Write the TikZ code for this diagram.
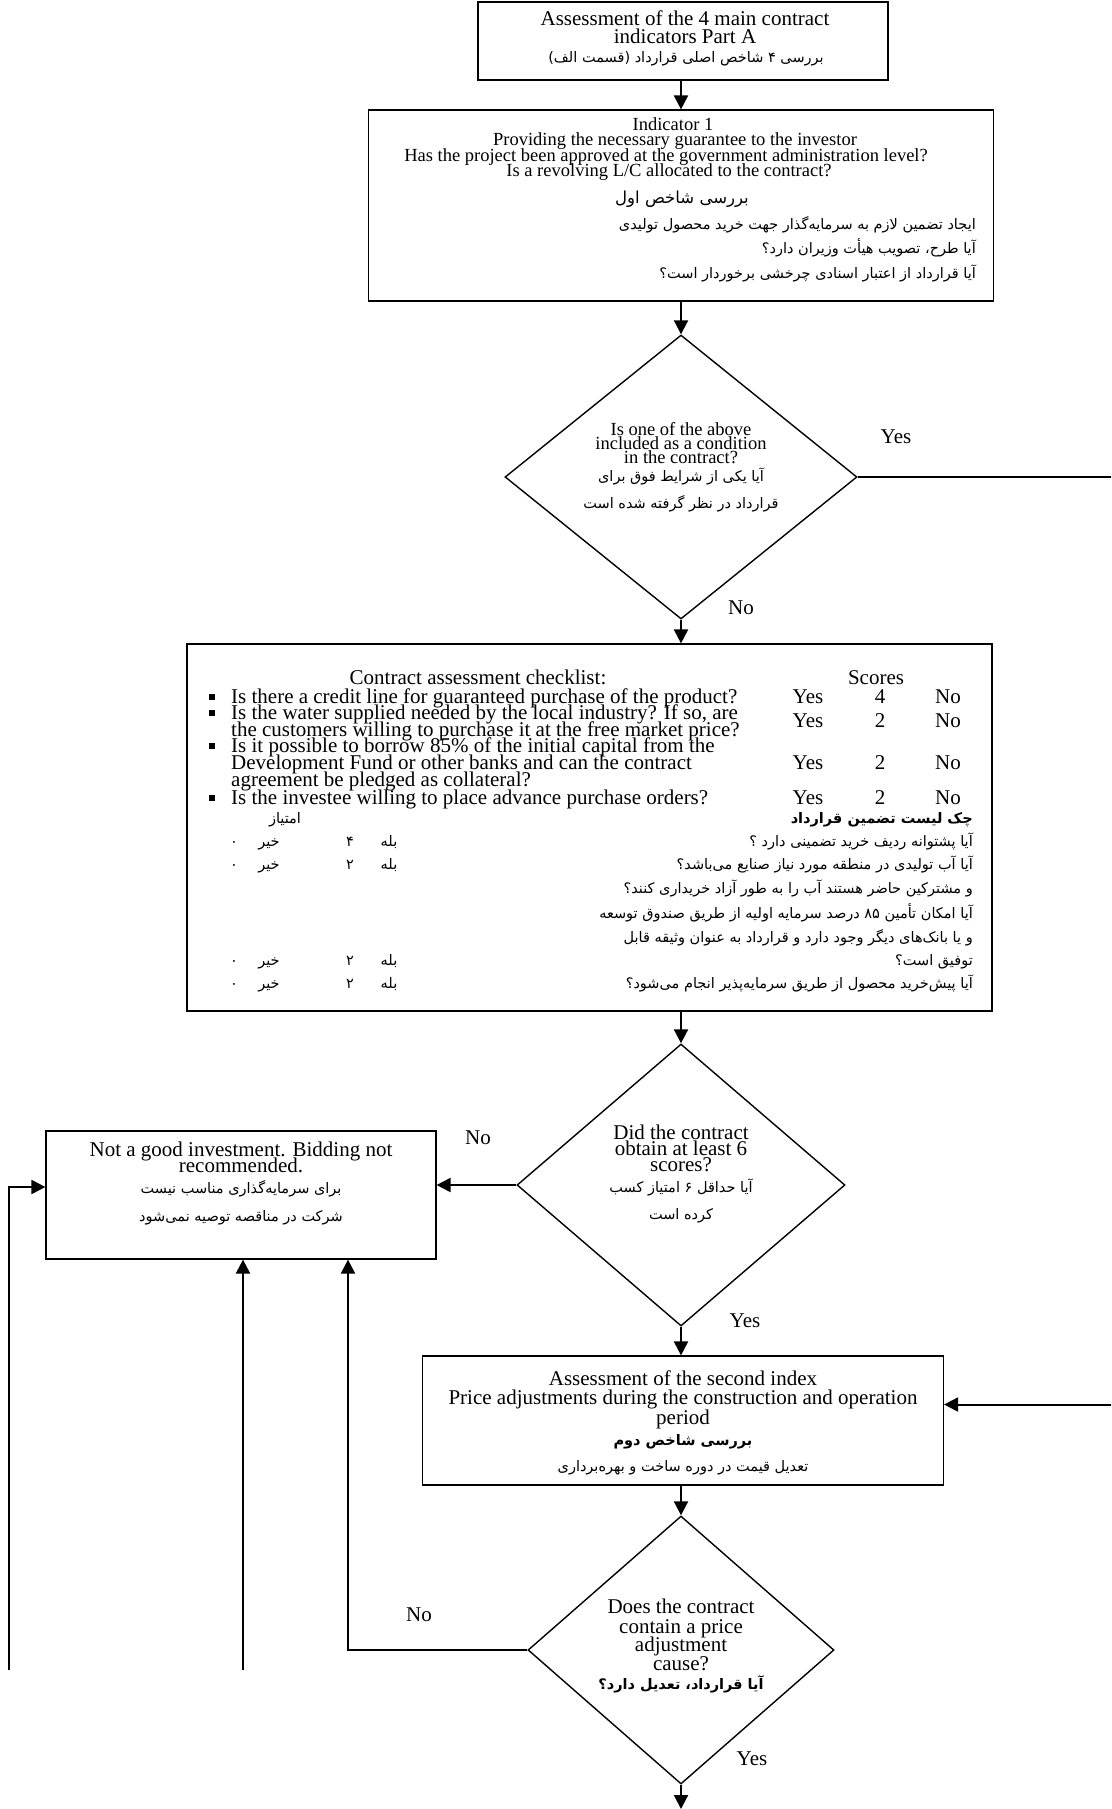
\documentclass[tikz,border=0pt]{standalone}
\usepackage{fontspec}
\setmainfont{Liberation Serif}
\newfontfamily\persianfont[Script=Arabic]{DejaVu Sans}
\TeXXeTstate=1
\usetikzlibrary{shapes.geometric,arrows.meta,calc}
\newcommand\prs[1]{{\persianfont\beginR #1\endR}}
\tikzset{
  boxshape/.style={draw, line width=1.2pt, rectangle, inner sep=0pt},
  diashape/.style={draw, line width=1.4pt, diamond, inner sep=0pt},
  conn/.style={line width=2pt, -{Triangle[length=14pt,width=14pt]}},
  en/.style={anchor=base, inner sep=0pt, font=\fontsize{21}{21}\selectfont},
  ens/.style={anchor=base, inner sep=0pt, font=\fontsize{18.5}{18.5}\selectfont},
  enl/.style={anchor=base west, inner sep=0pt, font=\fontsize{21}{21}\selectfont},
  fa/.style={anchor=base, inner sep=0pt, font=\fontsize{14.5}{14.5}\selectfont},
  fal/.style={anchor=base east, inner sep=0pt, font=\fontsize{14.5}{14.5}\selectfont},
  bul/.style={fill, rectangle, inner sep=0pt, minimum size=6pt},
}
\begin{document}
\begin{tikzpicture}[x=1pt, y=-1pt]
\useasboundingbox (0,0) rectangle (1111,1809);
\clip (0,0) rectangle (1111,1809);

% ---------- box 1
\node[boxshape, minimum width=410pt, minimum height=78pt] (b1) at (683,41) {};
\node[en] (b1a) at (685,26) {Assessment of the 4 main contract};
\node[en] (b1b) at (685,44) {indicators Part A};
\node[fa] (b1c) at (686,63) {\prs{بررسی ۴ شاخص اصلی قرارداد (قسمت الف)}};

% ---------- box 2
\node[boxshape, minimum width=625pt, minimum height=191pt] (b2) at (681,205.5) {};
\node[ens] (b2a) at (673,131) {Indicator 1};
\node[ens] (b2b) at (675,146) {Providing the necessary guarantee to the investor};
\node[ens] (b2c) at (666,161) {Has the project been approved at the government administration level?};
\node[ens] (b2d) at (669,176) {Is a revolving L/C allocated to the contract?};
\node[anchor=base, inner sep=0pt, font=\fontsize{16.5}{16.5}\selectfont] (b2e) at (682,203) {\prs{بررسی شاخص اول}};
\node[fal] (b2f) at (976,229) {\prs{ایجاد تضمین لازم به سرمایه‌گذار جهت خرید محصول تولیدی}};
\node[fal] (b2g) at (976,253) {\prs{آیا طرح، تصویب هیأت وزیران دارد؟}};
\node[fal] (b2h) at (976,278) {\prs{آیا قرارداد از اعتبار اسنادی چرخشی برخوردار است؟}};

% ---------- diamond 1
\node[diashape, minimum width=352pt, minimum height=284pt] (d1) at (681,477) {};
\node[ens] (d1a) at (681,435) {Is one of the above};
\node[ens] (d1b) at (681,449) {included as a condition};
\node[ens] (d1c) at (681,463) {in the contract?};
\node[fa] (d1d) at (681,481) {\prs{آیا یکی از شرایط فوق برای}};
\node[fa] (d1e) at (681,508) {\prs{قرارداد در نظر گرفته شده است}};

% ---------- checklist box
\node[boxshape, minimum width=805pt, minimum height=367pt] (chk) at (589.5,827.5) {};
\node[en] (ch0) at (478,684) {Contract assessment checklist:};
\node[en] (sc0) at (876,684) {Scores};
\node[bul] (bu1) at (212,697) {};
\node[bul] (bu2) at (212,713) {};
\node[bul] (bu3) at (212,746) {};
\node[bul] (bu4) at (212,798) {};
\node[enl] (ch1) at (231,703) {Is there a credit line for guaranteed purchase of the product?};
\node[enl] (ch2) at (231,719) {Is the water supplied needed by the local industry? If so, are};
\node[enl] (ch3) at (231,736) {the customers willing to purchase it at the free market price?};
\node[enl] (ch4) at (231,752) {Is it possible to borrow 85\% of the initial capital from the};
\node[enl] (ch5) at (231,769) {Development Fund or other banks and can the contract};
\node[enl] (ch6) at (231,786) {agreement be pledged as collateral?};
\node[enl] (ch7) at (231,804) {Is the investee willing to place advance purchase orders?};
\node[en] (y1) at (808,703) {Yes};
\node[en] (n1) at (880,703) {4};
\node[en] (o1) at (948,703) {No};
\node[en] (y2) at (808,727) {Yes};
\node[en] (n2) at (880,727) {2};
\node[en] (o2) at (948,727) {No};
\node[en] (y3) at (808,769) {Yes};
\node[en] (n3) at (880,769) {2};
\node[en] (o3) at (948,769) {No};
\node[en] (y4) at (808,804) {Yes};
\node[en] (n4) at (880,804) {2};
\node[en] (o4) at (948,804) {No};
% persian checklist
\node[fa] (pm0) at (285,823) {\prs{امتیاز}};
\node[fal] (pc0) at (973,823) {\prs{\bfseries چک لیست تضمین قرارداد}};
\node[fal] (pc1) at (973,846) {\prs{آیا پشتوانه ردیف خرید تضمینی دارد ؟}};
\node[fal] (pc2) at (973,869) {\prs{آیا آب تولیدی در منطقه مورد نیاز صنایع می‌باشد؟}};
\node[fal] (pc3) at (973,893) {\prs{و مشترکین حاضر هستند آب را به طور آزاد خریداری کنند؟}};
\node[fal] (pc4) at (973,918) {\prs{آیا امکان تأمین ۸۵ درصد سرمایه اولیه از طریق صندوق توسعه}};
\node[fal] (pc5) at (973,942) {\prs{و یا بانک‌های دیگر وجود دارد و قرارداد به عنوان وثیقه قابل}};
\node[fal] (pc6) at (973,965) {\prs{توفیق است؟}};
\node[fal] (pc7) at (973,988) {\prs{آیا پیش‌خرید محصول از طریق سرمایه‌پذیر انجام می‌شود؟}};
\foreach \yy/\nn/\k in {846/۴/1, 869/۲/2, 965/۲/3, 988/۲/4}{
  \node[fa] (pb\k) at (389,\yy) {\prs{بله}};
  \node[fa] (pn\k) at (350,\yy) {\prs{\nn}};
  \node[fa] (pk\k) at (269,\yy) {\prs{خیر}};
  \node[fa] (pz\k) at (234,\yy) {\prs{۰}};
}

% ---------- diamond 2
\node[diashape, minimum width=328pt, minimum height=282pt] (d2) at (681,1185) {};
\node[en] (d2a) at (681,1139) {Did the contract};
\node[en] (d2b) at (681,1155) {obtain at least 6};
\node[en] (d2c) at (681,1171) {scores?};
\node[fa] (d2d) at (681,1192) {\prs{آیا حداقل ۶ امتیاز کسب}};
\node[fa] (d2e) at (681,1219) {\prs{کرده است}};

% ---------- not a good investment
\node[boxshape, minimum width=390pt, minimum height=128pt] (ng) at (241,1195) {};
\node[en] (nga) at (241,1156) {Not a good investment. Bidding not};
\node[en] (ngb) at (241,1172) {recommended.};
\node[fa] (ngc) at (241,1193) {\prs{برای سرمایه‌گذاری مناسب نیست}};
\node[fa] (ngd) at (241,1221) {\prs{شرکت در مناقصه توصیه نمی‌شود}};

% ---------- box 3
\node[boxshape, minimum width=521pt, minimum height=129pt] (b3) at (683,1420.5) {};
\node[en] (b3a) at (683,1385) {Assessment of the second index};
\node[en] (b3b) at (683,1404) {Price adjustments during the construction and operation};
\node[en] (b3c) at (683,1424) {period};
\node[fa] (b3d) at (683,1445) {\prs{\bfseries بررسی شاخص دوم}};
\node[fa] (b3e) at (683,1471) {\prs{تعدیل قیمت در دوره ساخت و بهره‌برداری}};

% ---------- diamond 3
\node[diashape, minimum width=306pt, minimum height=268pt] (d3) at (681,1650) {};
\node[en] (d3a) at (681,1613) {Does the contract};
\node[en] (d3b) at (681,1633) {contain a price};
\node[en] (d3c) at (681,1651) {adjustment};
\node[en] (d3d) at (681,1670) {cause?};
\node[fa] (d3e) at (681,1689) {\prs{\bfseries آیا قرارداد، تعدیل دارد؟}};

% ---------- free ends
\coordinate (endA) at (681,1809);
\coordinate (L1) at (9,1670);
\coordinate (L2) at (243,1670);
\coordinate (R1) at (1135,477);

% ---------- connectors
\draw[conn] (b1.south -| b2.north) -- (b2.north);
\draw[conn] (b2.south) -- (d1.north);
\draw[conn] (d1.south) -- (d1.south |- chk.north);
\draw[conn] (d2.north |- chk.south) -- (d2.north);
\draw[conn] (d2.south) -- (d2.south |- b3.north);
\draw[conn] (d3.north |- b3.south) -- (d3.north);
\draw[conn] (d3.south) -- (endA);
\draw[conn] (d1.east) -- (R1) |- ([yshift=16pt]b3.east);
\draw[conn] (d2.west) -- (d2.west -| ng.east);
\draw[conn] (L1) |- ([yshift=8pt]ng.west);
\draw[conn] (L2) -- (L2 |- ng.south);
\draw[conn] (d3.west) -| ([xshift=107pt]ng.south);

% ---------- labels
\node[en] (lyes1) at (896,443) {Yes};
\node[en] (lno1) at (741,614) {No};
\node[en] (lno2) at (478,1144) {No};
\node[en] (lyes2) at (745,1327) {Yes};
\node[en] (lno3) at (419,1621) {No};
\node[en] (lyes3) at (752,1765) {Yes};
\end{tikzpicture}
\end{document}
